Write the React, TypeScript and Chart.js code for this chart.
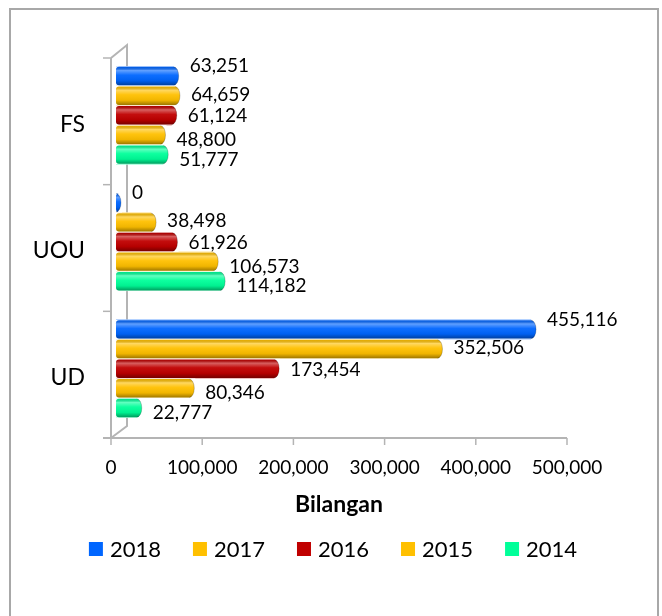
import React, { useEffect, useRef } from "react";
import { Chart, registerables } from "chart.js";
Chart.register(...registerables);

const categories = ["FS", "UOU", "UD"];
const seriesNames = ["2018", "2017", "2016", "2015", "2014"];
const values2018 = [63251, 0, 455116];
const values2017 = [64659, 38498, 352506];
const values2016 = [61124, 61926, 173454];
const values2015 = [48800, 106573, 80346];
const values2014 = [51777, 114182, 22777];
const seriesColors = ["#0066FF", "#FFC000", "#C00000", "#FFC000", "#00FF99"];
const xMin = 0;
const xMax = 500000;
const xStep = 100000;
const axisTitle = "Bilangan";

const FONT = "Lato, 'DejaVu Sans', sans-serif";
const AXIS_GRAY = "#b4b4b4";

// 3D look: front frame is offset from the (recessed) plot area
const FRONT_DX = -5;
const FRONT_DY = 6;
const BACK_DX = 11;
const BACK_DY = -7;
const LABEL_DY = [-10, -1, 1, 5, 5];

const fmt = (v: number) => v.toLocaleString("en-US");

const framePlugin = {
  id: "frame3d",
  beforeDraw(chart: any) {
    const { ctx, width } = chart;
    ctx.save();
    ctx.fillStyle = "#ffffff";
    ctx.fillRect(0, 0, width, chart.height);
    ctx.strokeStyle = "#a8a8a8";
    ctx.lineWidth = 2;
    ctx.strokeRect(10, 9, 648, 700);
    ctx.restore();
  },
  beforeDatasetsDraw(chart: any) {
    const { ctx, chartArea } = chart;
    const xs = chart.scales.x;
    const fl = chartArea.left + FRONT_DX;
    const ft = chartArea.top + FRONT_DY;
    const fb = chartArea.bottom + FRONT_DY;
    const bl = chartArea.left + BACK_DX;
    const bt = chartArea.top + BACK_DY;
    const bb = chartArea.bottom + BACK_DY + 1;
    ctx.save();
    ctx.strokeStyle = AXIS_GRAY;
    ctx.lineWidth = 2;
    ctx.beginPath();
    ctx.moveTo(fl, ft);
    ctx.lineTo(bl, bt);
    ctx.lineTo(bl, bb);
    ctx.lineTo(fl, fb);
    ctx.stroke();
    ctx.beginPath();
    ctx.moveTo(fl, ft);
    ctx.lineTo(fl, fb);
    ctx.stroke();
    const n = categories.length;
    ctx.lineWidth = 1.5;
    for (let i = 0; i <= n; i++) {
      const y = ft + (i * (fb - ft)) / n;
      ctx.beginPath();
      ctx.moveTo(fl - 8, y);
      ctx.lineTo(fl, y);
      ctx.stroke();
    }
    ctx.lineWidth = 2;
    const xr = xs.getPixelForValue(xMax) + FRONT_DX;
    ctx.beginPath();
    ctx.moveTo(fl - 8, fb);
    ctx.lineTo(xr, fb);
    ctx.stroke();
    ctx.lineWidth = 1.5;
    for (let v = xMin; v <= xMax; v += xStep) {
      const x = xs.getPixelForValue(v) + FRONT_DX;
      ctx.beginPath();
      ctx.moveTo(x, fb);
      ctx.lineTo(x, fb + 7);
      ctx.stroke();
    }
    ctx.restore();
  },
  afterDraw(chart: any) {
    const { ctx } = chart;
    const xs = chart.scales.x;
    const cx = (xs.getPixelForValue(xMin) + xs.getPixelForValue(xMax)) / 2 + FRONT_DX;
    ctx.save();
    ctx.font = `bold 23px ${FONT}`;
    ctx.fillStyle = "#000000";
    ctx.textAlign = "center";
    ctx.textBaseline = "middle";
    ctx.fillText(axisTitle, cx, 505);
    ctx.restore();
  },
};

const cylinderPlugin = {
  id: "cylinders",
  afterDatasetsDraw(chart: any) {
    const ctx = chart.ctx;
    ctx.save();
    chart.data.datasets.forEach((ds: any, di: number) => {
      const meta = chart.getDatasetMeta(di);
      meta.data.forEach((el: any) => {
        const { x, y, base, height } = el.getProps(["x", "y", "base", "height"], true);
        const h = height - 1.2;
        const top = y - h / 2;
        const bottom = y + h / 2;
        const rx = 5;
        const lr = 3;
        ctx.fillStyle = "#ffffff";
        ctx.fillRect(base - 1, y - height / 2, Math.max(0, x - base) + rx + 2, height);
        ctx.beginPath();
        ctx.moveTo(base + lr, top);
        ctx.lineTo(x, top);
        ctx.ellipse(x, y, rx, h / 2, 0, -Math.PI / 2, Math.PI / 2, false);
        ctx.lineTo(base + lr, bottom);
        ctx.quadraticCurveTo(base, bottom, base, bottom - lr);
        ctx.lineTo(base, top + lr);
        ctx.quadraticCurveTo(base, top, base + lr, top);
        ctx.closePath();
        ctx.fillStyle = ds.backgroundColor;
        ctx.fill();
        const g = ctx.createLinearGradient(0, top, 0, bottom);
        g.addColorStop(0, "rgba(0,0,0,0.08)");
        g.addColorStop(0.2, "rgba(255,255,255,0.38)");
        g.addColorStop(0.45, "rgba(255,255,255,0.05)");
        g.addColorStop(0.75, "rgba(0,0,0,0.06)");
        g.addColorStop(1, "rgba(0,0,0,0.38)");
        ctx.fillStyle = g;
        ctx.fill();
        ctx.beginPath();
        ctx.ellipse(x, y, rx, h / 2, 0, -Math.PI / 2, Math.PI / 2, false);
        ctx.strokeStyle = "rgba(0,0,0,0.2)";
        ctx.lineWidth = 1;
        ctx.stroke();
      });
    });
    ctx.restore();
  },
};

const labelPlugin = {
  id: "valueLabels",
  afterDatasetsDraw(chart: any) {
    const ctx = chart.ctx;
    ctx.save();
    ctx.font = `19px ${FONT}`;
    ctx.fillStyle = "#000000";
    ctx.textAlign = "left";
    ctx.textBaseline = "middle";
    chart.data.datasets.forEach((ds: any, di: number) => {
      const meta = chart.getDatasetMeta(di);
      meta.data.forEach((el: any, i: number) => {
        const { x, y } = el.getProps(["x", "y"], true);
        ctx.fillText(fmt(ds.data[i]), x + 16, y + LABEL_DY[di]);
      });
    });
    ctx.restore();
  },
};

const legendPlugin = {
  id: "bottomLegend",
  afterDraw(chart: any) {
    const ctx = chart.ctx;
    ctx.save();
    ctx.font = `22px ${FONT}`;
    ctx.textBaseline = "middle";
    ctx.textAlign = "left";
    const box = 14;
    const gapText = 7;
    const gapItem = 32;
    const items = chart.data.datasets.map((ds: any) => ({
      label: ds.label,
      color: ds.backgroundColor,
      w: ctx.measureText(ds.label).width,
    }));
    const total =
      items.reduce((s: number, it: any) => s + box + gapText + it.w, 0) + gapItem * (items.length - 1);
    let x = (chart.width - total) / 2 + 2;
    const cy = 549;
    items.forEach((it: any) => {
      ctx.fillStyle = it.color;
      ctx.fillRect(x, cy - box / 2, box, box);
      ctx.fillStyle = "#000000";
      ctx.fillText(it.label, x + box + gapText, cy + 1);
      x += box + gapText + it.w + gapItem;
    });
    ctx.restore();
  },
};

export default function App() {
  const ref = useRef<HTMLCanvasElement | null>(null);
  useEffect(() => {
    if (!ref.current) return;
    const allValues = [values2018, values2017, values2016, values2015, values2014];
    const chart = new Chart(ref.current, {
      type: "bar",
      data: {
        labels: categories,
        datasets: seriesNames.map((name, i) => ({
          label: name,
          data: allValues[i],
          backgroundColor: seriesColors[i],
          borderWidth: 0,
          barPercentage: 1,
          categoryPercentage: 0.775,
        })),
      },
      options: {
        indexAxis: "y",
        responsive: false,
        animation: false,
        devicePixelRatio: 1,
        layout: { padding: { top: 52, left: 0, right: 90, bottom: 97.2 } },
        plugins: {
          legend: { display: false },
          tooltip: { enabled: false },
        },
        scales: {
          y: {
            grid: { display: false, drawTicks: false },
            border: { display: false },
            ticks: {
              color: "#000000",
              font: { family: FONT, size: 23 },
              padding: 31,
              labelOffset: 9,
            },
            afterFit(scale: any) {
              scale.width = 116;
            },
          },
          x: {
            min: xMin,
            max: xMax,
            grid: { display: false, drawTicks: false },
            border: { display: false },
            ticks: {
              stepSize: xStep,
              color: "#000000",
              font: { family: FONT, size: 19 },
              padding: 24,
              labelOffset: FRONT_DX,
              callback: (v: any) => fmt(Number(v)),
            },
            title: { display: false, text: axisTitle },
            afterFit(scale: any) {
              scale.height = 86.8;
            },
          },
        },
      },
      plugins: [framePlugin, cylinderPlugin, labelPlugin, legendPlugin],
    } as any);
    return () => chart.destroy();
  }, []);
  return (
    <div style={{ position: "fixed", left: 0, top: 0, width: 662, height: 616, background: "#fff" }}>
      <canvas ref={ref} width={662} height={616} style={{ display: "block", width: 662, height: 616 }} />
    </div>
  );
}
